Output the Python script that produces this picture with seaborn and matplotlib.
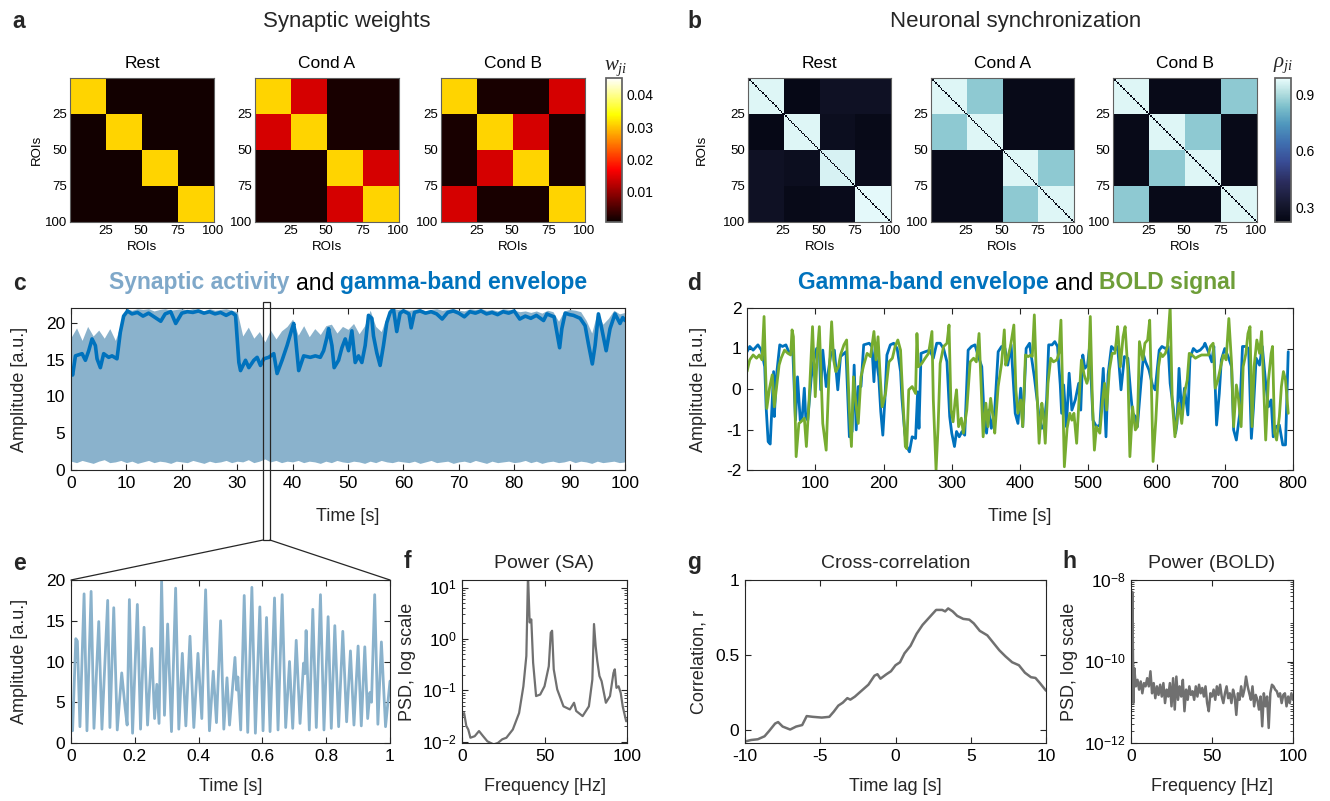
import numpy as np
import matplotlib
matplotlib.use("Agg")
import matplotlib.pyplot as plt
import seaborn as sns
from matplotlib.colors import LinearSegmentedColormap
from matplotlib.patches import Rectangle, ConnectionPatch
from matplotlib.offsetbox import TextArea, HPacker, AnchoredOffsetbox
from matplotlib.transforms import blended_transform_factory

# ------------------------------------------------------------------ data
roi_ticks = [25, 50, 75, 100]
block_size = 25
conditions = ["Rest", "Cond A", "Cond B"]

# synaptic weights, 4x4 block values (w_ji)
w_rest = [[0.031, 0.001, 0.001, 0.001],
          [0.001, 0.031, 0.001, 0.001],
          [0.001, 0.001, 0.031, 0.001],
          [0.001, 0.001, 0.001, 0.031]]
w_cond_a = [[0.031, 0.014, 0.0013, 0.0013],
            [0.014, 0.031, 0.0013, 0.0013],
            [0.0013, 0.0013, 0.031, 0.014],
            [0.0013, 0.0013, 0.014, 0.031]]
w_cond_b = [[0.031, 0.0013, 0.0013, 0.014],
            [0.0013, 0.031, 0.014, 0.0013],
            [0.0013, 0.014, 0.031, 0.0013],
            [0.014, 0.0013, 0.0013, 0.031]]
w_limits = [0.0004, 0.0453]
w_ticks = [0.01, 0.02, 0.03, 0.04]

# neuronal synchronization, 4x4 block values (rho_ji)
rho_rest = [[0.97, 0.23, 0.28, 0.28],
            [0.23, 0.97, 0.26, 0.24],
            [0.28, 0.26, 0.96, 0.25],
            [0.28, 0.24, 0.25, 0.98]]
rho_cond_a = [[0.97, 0.86, 0.24, 0.24],
              [0.86, 0.97, 0.24, 0.24],
              [0.24, 0.24, 0.97, 0.86],
              [0.24, 0.24, 0.86, 0.97]]
rho_cond_b = [[0.97, 0.24, 0.24, 0.86],
              [0.24, 0.97, 0.86, 0.24],
              [0.24, 0.86, 0.97, 0.24],
              [0.86, 0.24, 0.24, 0.97]]
rho_diag = 0.22
rho_limits = [0.22, 0.99]
rho_ticks = [0.3, 0.6, 0.9]

# panel c: synaptic activity (1 s grid) and gamma-band envelope
sa_time = list(range(0, 101))
sa_upper = [18.0, 19.3, 17.6, 19.5, 18.2, 19.0, 17.9, 19.2, 17.6, 19.8,
            21.9, 21.7, 21.9, 21.8, 21.9, 21.6, 21.8, 21.9, 21.7, 21.8,
            21.9, 21.7, 21.9, 21.8, 21.6, 21.9, 21.7, 21.8, 21.9, 21.7,
            21.5, 18.2, 19.4, 17.9, 18.8, 17.4, 19.0, 17.8, 18.9, 19.5,
            20.5, 18.3, 19.6, 18.1, 19.2, 18.4, 19.6, 19.8, 18.6, 19.5,
            19.1, 19.9, 18.5, 19.6, 21.7, 19.5, 18.8, 20.9, 21.9, 21.8,
            21.9, 21.7, 21.8, 21.9, 21.6, 21.8, 21.9, 21.7, 21.8, 21.9,
            21.7, 21.6, 21.9, 21.8, 21.9, 21.7, 21.8, 21.6, 21.9, 21.8,
            21.7, 21.5, 21.6, 21.4, 21.6, 21.3, 21.7, 21.5, 20.2, 21.6,
            21.8, 21.7, 21.5, 20.3, 18.6, 21.5, 19.8, 20.6, 21.7, 21.2, 21.4]
sa_lower = [1.2, 1.0, 1.3, 1.1, 0.9, 1.2, 1.4, 1.0, 1.1, 1.3,
            1.0, 1.2, 0.9, 1.1, 1.3, 1.0, 1.2, 1.1, 0.9, 1.2,
            1.1, 1.0, 1.3, 1.1, 0.9, 1.2, 1.0, 1.1, 1.3, 1.0,
            1.2, 1.1, 1.4, 1.0, 1.2, 1.5, 1.1, 1.3, 1.0, 1.2,
            1.1, 1.3, 1.0, 1.2, 1.1, 0.9, 1.2, 1.0, 1.3, 1.1,
            1.0, 1.2, 1.1, 0.9, 1.2, 1.0, 1.3, 1.1, 1.0, 1.2,
            1.1, 1.0, 1.2, 0.9, 1.1, 1.3, 1.0, 1.1, 1.2, 0.9,
            1.1, 1.2, 1.0, 1.3, 1.1, 0.9, 1.2, 1.0, 1.1, 1.2,
            1.0, 1.1, 1.3, 1.0, 1.2, 0.9, 1.1, 1.2, 1.0, 1.1,
            1.3, 1.0, 1.2, 1.1, 0.9, 1.2, 1.0, 1.1, 1.2, 1.0, 1.1]
env_time = [0, 0.3, 0.8, 2.0, 2.6, 3.2, 3.8, 4.4, 4.7, 5.3, 5.9, 6.8, 7.4, 8.3, 8.9, 9.5,
            10.2, 11, 12, 13, 14, 15, 16.2, 17, 18, 18.9, 20, 21, 22, 23, 24, 25, 26, 27,
            28, 29, 29.7, 30.3, 30.6, 31.5, 32.1, 33, 33.6, 34.2, 34.8, 35.7, 36.6, 37.2,
            38.1, 39, 39.9, 40.2, 40.5, 41.1, 42, 43.2, 44.1, 45, 45.6, 46.2, 46.5, 47.1,
            47.5, 48.3, 48.9, 49.5, 50.1, 50.7, 51.3, 51.9, 52.5, 53.1, 53.7, 54.3, 54.6,
            55.2, 55.8, 56.4, 57, 57.6, 58.2, 58.8, 59.4, 60, 61, 61.4, 62, 63, 64, 65, 66,
            67, 68, 69, 70, 71, 72, 73, 74, 75, 76, 77, 78, 79, 80, 81, 82, 83, 84, 85.3,
            85.9, 86.5, 87.2, 87.7, 88.2, 88.6, 89.2, 90, 90.7, 91.9, 92.8, 93.4, 94.1,
            94.6, 95.2, 95.8, 96.6, 97.3, 98.2, 99.1, 99.6, 100]
env_value = [13.5, 12.9, 15.5, 15.8, 14.9, 16.2, 17.8, 16.9, 15.1, 13.9, 15.8, 15.3, 15.5,
             15.1, 18.7, 20.9, 21.6, 21.2, 21.4, 20.9, 21.3, 20.8, 20.2, 21.2, 21.5, 19.9,
             21.3, 21.5, 21.4, 21.6, 21.3, 21.5, 21.2, 21.4, 21.0, 21.4, 21.0, 14.6, 13.5,
             14.9, 13.9, 14.9, 15.3, 14.2, 15.1, 15.3, 15.8, 13.1, 14.9, 16.9, 19.2, 19.9,
             18.2, 13.5, 15.5, 15.3, 15.5, 15.3, 16.2, 18.0, 19.2, 16.9, 13.9, 14.9, 16.6,
             17.8, 16.2, 18.9, 14.6, 15.5, 14.6, 16.9, 21.0, 20.6, 18.2, 15.9, 14.2, 16.9,
             20.0, 21.4, 21.9, 18.8, 21.3, 21.6, 21.2, 19.3, 21.4, 21.6, 21.3, 21.5, 21.2,
             20.5, 21.4, 21.6, 21.3, 20.8, 21.5, 21.3, 21.6, 21.2, 21.4, 21.1, 21.5, 21.3,
             21.6, 20.5, 20.9, 20.6, 21.0, 20.3, 21.2, 21.0, 20.8, 18.7, 16.6, 19.2, 21.3,
             21.1, 21.0, 20.6, 19.6, 17.1, 14.4, 16.9, 21.2, 19.2, 16.2, 19.2, 21.2, 19.9,
             20.7, 20.3]
zoom_window = [34.7, 35.9]

# panel d: gamma-band envelope and BOLD signal
gamma_time = [0, 4, 9, 16, 21, 26, 28, 31, 34, 37, 39, 40, 43, 48, 52, 57, 62, 67, 71, 74,
              78, 81, 84, 86, 89, 94, 97, 102, 106, 108, 111, 116, 123, 128, 133, 137, 145,
              150, 154, 157, 160, 163, 167, 171, 179, 183, 186, 188, 193, 196, 199, 202,
              205, 210, 215, 220, 225, 227, 231, 234, 238, 242, 247, 250, 252, 255, 261,
              268, 273, 278, 283, 288, 293, 297, 300, 304, 307, 311, 315, 319, 324, 329,
              334, 339, 344, 347, 351, 354, 358, 363, 368, 373, 378, 382, 387, 393, 397,
              401, 404, 409, 414, 416, 421, 425, 428, 432, 435, 439, 442, 447, 451, 455,
              459, 461, 464, 468, 472, 476, 481, 486, 489, 492, 495, 499, 502, 507, 512,
              517, 522, 526, 529, 534, 539, 543, 548, 553, 558, 562, 565, 569, 572, 577,
              581, 584, 589, 594, 598, 604, 608, 613, 617, 620, 625, 628, 630, 633, 637,
              641, 646, 649, 654, 659, 664, 669, 671, 676, 681, 684, 688, 692, 695, 700,
              705, 710, 713, 717, 722, 726, 731, 735, 739, 742, 746, 751, 755, 760, 764,
              768, 771, 775, 780, 785, 789, 793]
gamma_value = [0.92, 1.05, 0.96, 1.09, 0.96, 0.55, -0.44, -1.30, -1.36, -0.27, 0.43, -0.68,
               0.30, 1.09, 1.05, 1.09, 0.88, 1.00, -0.77, 0.30, -0.77, -0.68, 0.02, -0.68,
               -0.77, 0.26, 0.63, 1.00, 0.96, -0.02, 0.96, 0.06, 0.88, 0.96, -0.02, 0.80,
               0.92, -1.18, -1.05, 0.59, -1.01, 0.06, 0.06, 1.09, 1.13, 1.05, 0.18, 0.92,
               0.30, -0.56, -1.14, -0.27, 0.84, 1.09, 1.13, 1.00, 0.43, -0.23, -1.05, -1.42,
               -1.55, -1.18, -1.22, -0.07, -0.97, 0.88, 0.92, 0.96, 0.76, 1.13, 1.13, 1.00,
               0.67, -0.68, -1.09, -1.42, -1.05, -1.18, -1.05, -1.14, 0.96, 1.05, 1.09, 0.80,
               0.55, -0.52, -1.09, -0.52, -0.97, -0.52, 0.92, 1.05, 1.00, 0.59, 1.09, -0.60,
               -0.85, 0.02, -0.93, 1.00, 1.13, 0.88, 0.30, -0.27, -0.68, -0.97, -0.93, -0.27,
               1.09, 1.09, 1.17, 1.05, 0.10, -0.60, 0.10, -0.93, 0.39, -0.52, -0.27, 0.14,
               -0.52, 0.84, 0.51, 0.59, 1.05, -0.77, -0.93, -0.89, 0.51, -1.18, 0.35, 1.05,
               0.96, 1.05, -0.02, 0.80, 0.76, -0.07, -0.60, -0.68, -0.93, 0.10, 0.84, 0.67,
               0.47, 0.10, -0.02, 0.96, 1.05, 1.00, 1.05, 0.14, -0.52, -1.09, -0.85, 0.51,
               -0.64, 0.02, -0.64, 0.76, 1.00, 0.92, 0.96, 1.05, 1.13, 0.92, 0.67, 1.05,
               -0.89, -0.11, 0.72, 1.00, 0.80, 0.55, -1.01, -1.26, -0.60, 1.05, 1.05, 1.00,
               -1.22, -0.48, 0.76, 0.59, 1.05, 0.14, -0.44, -0.27, -1.18, -0.93, -0.89,
               -1.38, -1.38, 0.92]
bold_time = [0, 4, 9, 14, 18, 22, 25, 27, 29, 33, 37, 40, 44, 47, 50, 55, 60, 64, 66, 68,
             72, 76, 79, 84, 87, 91, 96, 100, 103, 106, 111, 116, 120, 124, 127, 130, 134,
             137, 142, 146, 150, 153, 156, 159, 163, 167, 171, 176, 181, 186, 189, 192,
             195, 198, 203, 208, 213, 217, 221, 225, 227, 230, 232, 234, 237, 242, 247,
             249, 251, 256, 261, 266, 271, 273, 277, 280, 283, 288, 293, 296, 299, 302,
             305, 307, 310, 314, 317, 322, 327, 332, 336, 340, 344, 346, 350, 353, 357,
             361, 363, 368, 373, 377, 379, 382, 386, 391, 394, 397, 401, 404, 408, 412,
             416, 418, 421, 424, 428, 432, 434, 437, 441, 445, 449, 454, 457, 460, 462,
             465, 469, 473, 476, 479, 483, 487, 490, 494, 498, 500, 503, 506, 509, 512,
             517, 521, 524, 527, 531, 535, 539, 541, 543, 547, 551, 554, 558, 561, 565,
             569, 572, 575, 580, 583, 587, 590, 593, 595, 599, 603, 606, 609, 613, 616,
             620, 623, 627, 630, 633, 637, 641, 645, 648, 652, 657, 661, 666, 671, 676,
             679, 683, 686, 690, 694, 698, 702, 706, 710, 713, 717, 720, 724, 727, 731,
             734, 737, 740, 743, 747, 751, 754, 757, 760, 764, 768, 770, 773, 776, 780,
             783, 786, 789, 793]
bold_value = [0.43, 0.72, 0.84, 0.76, 0.84, 0.72, 1.79, 0.55, -0.48, 0.02, 0.35, -0.44,
              0.14, 0.59, 0.76, 0.96, 0.88, 0.84, 1.46, 1.29, -1.67, -0.85, -0.81, -0.72,
              -1.42, -0.27, 1.54, -0.19, 0.88, 1.54, -0.85, -1.51, 0.30, 1.66, 0.72, 0.43,
              0.55, 0.84, 1.09, 1.21, -0.52, -1.42, 0.30, -0.27, -0.85, 0.30, 0.59, 0.88,
              0.80, 1.42, 0.72, 1.29, 0.35, -0.44, -0.11, 0.67, 0.76, 1.05, 1.21, 0.96,
              0.22, -0.77, -1.42, -1.47, -0.02, 0.06, -0.11, 1.37, 0.55, 0.63, 0.76, 0.88,
              1.42, -0.27, -2.00, -0.93, 0.63, 1.05, 1.13, 1.58, -0.52, -0.81, -0.27, -0.02,
              -0.93, -0.72, -1.09, -0.52, 0.67, 0.76, 0.67, 1.37, -0.35, -1.18, -0.35, -0.93,
              -0.23, -0.77, -1.09, 0.06, 0.63, 1.46, 0.59, 0.76, 1.05, 1.58, -0.02, -0.60,
              -0.27, -0.93, 0.84, 0.80, 0.84, 0.80, 1.83, 0.30, -1.34, -0.35, -0.60, -1.34,
              0.14, 0.76, 0.67, 0.72, 0.88, 1.70, 0.30, -1.92, -0.97, -0.60, -0.77, -0.60,
              -1.34, -0.11, 0.72, 0.35, 0.14, 0.26, 1.79, -0.27, -1.51, -0.93, -1.09, -0.27,
              0.14, -0.52, 0.47, 0.88, 0.88, 1.17, 1.54, 0.55, 1.29, 1.54, 0.47, -1.67,
              -0.44, -1.01, -0.93, 1.17, 0.72, 1.13, 1.21, 1.70, -0.27, -1.79, -0.77, 0.55,
              0.88, 0.80, 0.88, 1.05, 2.03, -0.27, -1.18, -0.77, -0.35, -0.85, -0.11, 0.22,
              0.88, 0.84, 0.76, 0.80, 0.84, 0.84, 0.84, 1.05, 1.13, 0.02, 0.22, 0.55, 0.84,
              0.72, 1.74, 0.63, -0.93, 0.10, -0.23, -0.93, 0.55, 0.88, 1.37, 1.54, -0.93,
              0.55, 1.21, 0.88, 1.42, 0.06, -1.26, 0.22, 0.88, 1.05, -1.09, -1.26, -0.68,
              0.06, 0.43, 0.22, -0.60]

# panel e: 1-s zoom of synaptic activity
zoom_time = [0.000, 0.005, 0.015, 0.020, 0.028, 0.041, 0.050, 0.063, 0.072, 0.087, 0.097,
             0.115, 0.122, 0.134, 0.145, 0.159, 0.170, 0.176, 0.183, 0.193, 0.208, 0.218,
             0.229, 0.240, 0.253, 0.262, 0.269, 0.276, 0.284, 0.293, 0.303, 0.315, 0.328,
             0.338, 0.349, 0.360, 0.373, 0.385, 0.398, 0.410, 0.422, 0.434, 0.446, 0.456,
             0.469, 0.479, 0.489, 0.497, 0.514, 0.519, 0.523, 0.532, 0.543, 0.554, 0.567,
             0.578, 0.592, 0.602, 0.613, 0.624, 0.638, 0.649, 0.662, 0.673, 0.685, 0.695,
             0.706, 0.718, 0.729, 0.733, 0.737, 0.747, 0.758, 0.769, 0.782, 0.793, 0.806,
             0.816, 0.827, 0.839, 0.852, 0.864, 0.876, 0.887, 0.900, 0.910, 0.921, 0.930,
             0.937, 0.942, 0.952, 0.962, 0.973, 0.986, 1.000]
zoom_value = [5.0, 1.5, 12.8, 12.5, 2.0, 18.3, 1.5, 18.6, 1.8, 14.9, 1.7, 17.5, 1.9, 16.6,
              1.6, 8.6, 4.2, 2.2, 17.6, 1.2, 17.0, 1.7, 14.2, 2.2, 11.6, 3.0, 7.2, 2.4, 19.9,
              3.4, 14.6, 1.4, 19.0, 1.7, 11.0, 2.1, 13.1, 1.9, 11.0, 3.0, 18.8, 1.5, 8.8,
              2.5, 15.0, 1.7, 8.0, 2.2, 10.5, 6.5, 8.1, 1.6, 18.1, 1.3, 19.1, 1.2, 16.7, 1.5,
              15.4, 1.4, 17.8, 1.6, 18.2, 1.9, 10.0, 1.8, 12.6, 2.4, 9.8, 8.5, 13.8, 1.6,
              16.4, 1.9, 18.2, 1.6, 15.5, 1.8, 14.4, 2.0, 13.7, 2.6, 11.3, 2.2, 11.9, 2.1,
              11.8, 3.0, 6.2, 5.0, 18.2, 2.3, 12.4, 2.0, 7.6]

# panel f: power spectrum of synaptic activity (log10 PSD)
sa_freq = [0, 1.3, 2.6, 3.8, 5.1, 7.7, 10.3, 12.8, 15.4, 19.2, 21.8, 24.4, 26.9, 30.8, 34.6,
           37.2, 39.0, 40.0, 41.0, 42.0, 43.1, 44.9, 47.4, 50.0, 52.6, 53.8, 54.6, 55.6,
           57.7, 61.5, 65.4, 67.9, 69.2, 73.1, 76.9, 79.0, 80.0, 81.0, 82.0, 83.3, 84.6,
           87.2, 89.7, 91.8, 92.6, 93.6, 94.9, 96.2, 97.4, 99.5]
sa_psd_log10 = [-1.50, -1.44, -1.69, -1.76, -1.92, -1.89, -1.79, -1.89, -1.99, -2.05, -2.02,
                -1.95, -1.92, -1.76, -1.44, -0.92, -0.33, 1.25, 0.32, 0.38, -0.46, -1.11,
                -1.08, -0.92, -0.53, 0.12, 0.16, -0.59, -0.98, -1.31, -1.37, -1.24, -1.40,
                -1.50, -1.31, -0.79, 0.29, -0.14, -0.43, -0.72, -0.82, -1.24, -1.11, -0.66,
                -0.59, -0.95, -0.92, -1.05, -1.31, -1.60]

# panel g: cross-correlation
lag_s = [-10, -9.6, -9.15, -8.7, -8.4, -8.0, -7.8, -7.5, -7.0, -6.6, -6.2, -5.9, -5.5, -4.9,
         -4.4, -4.1, -3.8, -3.5, -3.2, -3.0, -2.7, -2.25, -1.8, -1.4, -1.2, -1.0, -0.6, -0.3,
         0.0, 0.3, 0.6, 1.0, 1.4, 1.8, 2.25, 2.7, 3.1, 3.3, 3.5, 3.8, 4.1, 4.5, 4.9, 5.2,
         5.6, 6.1, 6.5, 6.9, 7.3, 7.75, 8.2, 8.6, 9.0, 9.3, 9.6, 10.0]
xcorr_r = [-0.08, -0.07, -0.065, -0.045, -0.01, 0.04, 0.05, 0.02, 0.0, 0.02, 0.03, 0.09,
           0.085, 0.08, 0.085, 0.12, 0.16, 0.18, 0.21, 0.20, 0.22, 0.26, 0.30, 0.36, 0.37,
           0.34, 0.37, 0.39, 0.43, 0.45, 0.51, 0.56, 0.64, 0.70, 0.75, 0.80, 0.80, 0.79,
           0.81, 0.79, 0.76, 0.74, 0.735, 0.71, 0.66, 0.63, 0.58, 0.53, 0.49, 0.45, 0.43,
           0.38, 0.35, 0.345, 0.31, 0.26]

# panel h: power spectrum of BOLD (log10 PSD)
bold_freq = [0, 0.8, 1.5] + list(range(2, 101))
bold_psd_log10 = [-11.02, -8.29, -11.02, -10.16, -10.61, -10.45, -10.69, -10.49, -10.78,
                  -10.53, -10.61, -10.41, -10.61, -10.24, -10.78, -10.53, -10.90, -10.61,
                  -10.82, -10.57, -10.86, -10.53, -11.02, -10.69, -10.86, -10.53, -11.10,
                  -10.41, -11.18, -10.37, -10.94, -10.61, -10.86, -10.45, -11.22, -10.69,
                  -10.94, -10.61, -10.82, -10.73, -10.94, -10.61, -10.86, -10.57, -10.78,
                  -10.65, -10.86, -10.61, -11.02, -11.22, -10.78, -10.86, -10.69, -10.94,
                  -10.61, -10.82, -10.57, -10.86, -11.02, -10.78, -10.61, -10.90, -10.78,
                  -11.02, -10.69, -10.86, -11.31, -10.78, -10.94, -10.61, -10.86, -10.69,
                  -10.37, -10.61, -10.78, -10.94, -10.61, -11.10, -10.82, -10.94, -11.18,
                  -10.86, -11.59, -10.78, -11.10, -10.86, -11.63, -10.78, -10.57, -10.61,
                  -10.69, -10.73, -10.86, -10.78, -11.02, -10.82, -10.78, -11.10, -10.86,
                  -11.02, -10.78, -10.94]

# ------------------------------------------------------------------ style
sns.set_theme(style="white")
plt.rcParams["font.family"] = ["Liberation Sans", "DejaVu Sans"]
plt.rcParams["axes.unicode_minus"] = False
plt.rcParams["mathtext.fontset"] = "custom"
plt.rcParams["mathtext.rm"] = "Liberation Sans"
plt.rcParams["mathtext.it"] = "Liberation Serif:italic"
plt.rcParams["mathtext.bf"] = "Liberation Sans:bold"

W, H = 1330, 801
fig = plt.figure(figsize=(W / 100, H / 100), dpi=100)
fig.patch.set_facecolor("white")

EDGE = "#262626"
SA_COLOR = "#8AB2CC"
ENV_COLOR = "#0072BD"
BOLD_COLOR = "#77AC30"
GRAY = "#707070"


def add_ax(x0, y0, x1, y1):
    return fig.add_axes([x0 / W, 1 - y1 / H, (x1 - x0) / W, (y1 - y0) / H])


def fig_text(x, y, s, **kw):
    fig.text(x / W, 1 - y / H, s, ha="center", va="center", **kw)


def style_line_ax(ax, labelsize=12.5):
    for s in ax.spines.values():
        s.set_visible(True)
        s.set_color(EDGE)
        s.set_linewidth(0.8)
    ax.tick_params(which="both", direction="in", top=True, right=True, bottom=True,
                   left=True, colors=EDGE, labelcolor="black", labelsize=labelsize, pad=4)
    ax.tick_params(which="major", length=4, width=0.8)
    ax.tick_params(which="minor", length=2, width=0.6)
    ax.grid(False)


def block_matrix(blocks):
    return np.kron(np.array(blocks, dtype=float), np.ones((block_size, block_size)))


tick_pos = [t - 0.5 for t in roi_ticks]


def style_matrix_ax(ax, title, ylabel, ylabel_x):
    for s in ax.spines.values():
        s.set_visible(True)
        s.set_color("#606060")
        s.set_linewidth(0.8)
    ax.set_xticks(tick_pos)
    ax.set_xticklabels(roi_ticks)
    ax.set_yticks(tick_pos)
    ax.set_yticklabels(roi_ticks, rotation=0)
    ax.tick_params(direction="in", length=2.5, width=0.6, labelsize=9.5, bottom=True,
                   left=True, colors="#606060", labelcolor="black", pad=2)
    ax.set_title(title, fontsize=12.5, pad=7, color="black")
    ax.set_xlabel("ROIs", fontsize=9.5, color="black")
    ax.xaxis.set_label_coords(0.5, -0.135)
    if ylabel:
        ax.set_ylabel("ROIs", fontsize=9.5, color="black")
        ax.yaxis.set_label_coords(ylabel_x, 0.5)


# ---------------------------------------------------------------- panel a
hot = plt.get_cmap("hot")
a_boxes = [(70, 214), (255, 399), (441, 585)]
w_sets = [w_rest, w_cond_a, w_cond_b]
for i, ((x0, x1), blocks) in enumerate(zip(a_boxes, w_sets)):
    ax = add_ax(x0, 78, x1, 222)
    sns.heatmap(block_matrix(blocks), ax=ax, cmap=hot, vmin=w_limits[0], vmax=w_limits[1],
                cbar=False, xticklabels=False, yticklabels=False)
    style_matrix_ax(ax, conditions[i], i == 0, -0.19)
    if i == 0:
        mappable_a = ax.collections[0]
cax_a = add_ax(606, 78, 622, 222)
cb_a = fig.colorbar(mappable_a, cax=cax_a)
cb_a.set_ticks(w_ticks)
cb_a.set_ticklabels([f"{t:.2f}" for t in w_ticks])
cb_a.ax.tick_params(labelsize=10, direction="in", length=3, colors="#606060",
                    labelcolor="black")
cb_a.outline.set_edgecolor("#606060")
fig_text(616, 68, r"$w_{ji}$", fontsize=15)

# ---------------------------------------------------------------- panel b
ice = LinearSegmentedColormap.from_list(
    "ice_like",
    [(0.00, "#040613"), (0.12, "#16182f"), (0.28, "#2b2d5e"), (0.42, "#394d96"),
     (0.55, "#3f6fb0"), (0.68, "#4f97bd"), (0.80, "#7cbfcb"), (0.90, "#b5dfe0"),
     (1.00, "#eafdfd")])
b_boxes = [(748, 891), (931, 1074), (1113, 1257)]
rho_sets = [rho_rest, rho_cond_a, rho_cond_b]
for i, ((x0, x1), blocks) in enumerate(zip(b_boxes, rho_sets)):
    ax = add_ax(x0, 78, x1, 222)
    mat = block_matrix(blocks)
    np.fill_diagonal(mat, rho_diag)
    sns.heatmap(mat, ax=ax, cmap=ice, vmin=rho_limits[0], vmax=rho_limits[1],
                cbar=False, xticklabels=False, yticklabels=False)
    style_matrix_ax(ax, conditions[i], i == 0, -0.28)
    if i == 0:
        mappable_b = ax.collections[0]
cax_b = add_ax(1275, 78, 1291, 222)
cb_b = fig.colorbar(mappable_b, cax=cax_b)
cb_b.set_ticks(rho_ticks)
cb_b.set_ticklabels([f"{t:.1f}" for t in rho_ticks])
cb_b.ax.tick_params(labelsize=10, direction="in", length=3, colors="#606060",
                    labelcolor="black")
cb_b.outline.set_edgecolor("#606060")
fig_text(1283, 65, r"$\rho_{ji}$", fontsize=15)

# ---------------------------------------------------------------- panel c
ax_c = add_ax(71, 308, 625, 470)
ax_c.fill_between(sa_time, sa_lower, sa_upper, color=SA_COLOR, linewidth=0)
sns.lineplot(x=env_time, y=env_value, ax=ax_c, color=ENV_COLOR, linewidth=2.6,
             estimator=None, sort=False, legend=False)
ax_c.set_xlim(0, 100)
ax_c.set_ylim(0, 22)
ax_c.set_xticks(range(0, 101, 10))
ax_c.set_yticks([0, 5, 10, 15, 20])
style_line_ax(ax_c)
ax_c.set_xlabel("Time [s]", fontsize=13)
ax_c.set_ylabel("Amplitude [a.u.]", fontsize=13)
ax_c.xaxis.set_label_coords(0.5, -0.235)
ax_c.yaxis.set_label_coords(-0.078, 0.5)

# ---------------------------------------------------------------- panel d
ax_d = add_ax(747, 308, 1293, 470)
sns.lineplot(x=gamma_time, y=gamma_value, ax=ax_d, color=ENV_COLOR, linewidth=2,
             estimator=None, sort=False, legend=False)
sns.lineplot(x=bold_time, y=bold_value, ax=ax_d, color=BOLD_COLOR, linewidth=2,
             estimator=None, sort=False, legend=False)
ax_d.set_xlim(0, 800)
ax_d.set_ylim(-2, 2)
ax_d.set_xticks(range(100, 801, 100))
ax_d.set_yticks([-2, -1, 0, 1, 2])
style_line_ax(ax_d)
ax_d.set_xlabel("Time [s]", fontsize=13)
ax_d.set_ylabel("Amplitude [a.u.]", fontsize=13)
ax_d.xaxis.set_label_coords(0.5, -0.235)
ax_d.yaxis.set_label_coords(-0.073, 0.5)

# ---------------------------------------------------------------- panel e
ax_e = add_ax(71, 580, 390, 743)
sns.lineplot(x=zoom_time, y=zoom_value, ax=ax_e, color=SA_COLOR, linewidth=2,
             estimator=None, sort=False, legend=False)
ax_e.set_xlim(0, 1)
ax_e.set_ylim(0, 20)
ax_e.set_xticks([0, 0.2, 0.4, 0.6, 0.8, 1])
ax_e.set_xticklabels(["0", "0.2", "0.4", "0.6", "0.8", "1"])
ax_e.set_yticks([0, 5, 10, 15, 20])
style_line_ax(ax_e)
ax_e.set_xlabel("Time [s]", fontsize=13)
ax_e.set_ylabel("Amplitude [a.u.]", fontsize=13)
ax_e.xaxis.set_label_coords(0.5, -0.215)
ax_e.yaxis.set_label_coords(-0.135, 0.5)

# ---------------------------------------------------------------- panel f
ax_f = add_ax(462, 580, 627, 743)
sns.lineplot(x=sa_freq, y=10 ** np.array(sa_psd_log10), ax=ax_f, color=GRAY,
             linewidth=1.6, estimator=None, sort=False, legend=False)
ax_f.set_yscale("log")
ax_f.set_xlim(0, 100)
ax_f.set_ylim(0.0095, 14)
ax_f.set_xticks([0, 50, 100])
ax_f.set_yticks([1e-2, 1e-1, 1e0, 1e1])
ax_f.set_yticklabels([r"$10^{-2}$", r"$10^{-1}$", r"$10^{0}$", r"$10^{1}$"])
style_line_ax(ax_f)
ax_f.set_title("Power (SA)", fontsize=14, pad=9)
ax_f.set_xlabel("Frequency [Hz]", fontsize=13)
ax_f.set_ylabel("PSD, log scale", fontsize=13)
ax_f.xaxis.set_label_coords(0.5, -0.215)
ax_f.yaxis.set_label_coords(-0.279, 0.5)

# ---------------------------------------------------------------- panel g
ax_g = add_ax(745, 580, 1046, 743)
sns.lineplot(x=lag_s, y=xcorr_r, ax=ax_g, color=GRAY, linewidth=1.8,
             estimator=None, sort=False, legend=False)
ax_g.set_xlim(-10, 10)
ax_g.set_ylim(-0.09, 1)
ax_g.set_xticks([-10, -5, 0, 5, 10])
ax_g.set_yticks([0, 0.5, 1])
ax_g.set_yticklabels(["0", "0.5", "1"])
style_line_ax(ax_g)
ax_g.set_title("Cross-correlation", fontsize=14, pad=9)
ax_g.set_xlabel("Time lag [s]", fontsize=13)
ax_g.set_ylabel("Correlation, r", fontsize=13)
ax_g.xaxis.set_label_coords(0.5, -0.215)
ax_g.yaxis.set_label_coords(-0.126, 0.5)

# ---------------------------------------------------------------- panel h
ax_h = add_ax(1131, 580, 1293, 743)
sns.lineplot(x=bold_freq, y=10 ** np.array(bold_psd_log10), ax=ax_h, color=GRAY,
             linewidth=1.8, estimator=None, sort=False, legend=False)
ax_h.set_yscale("log")
ax_h.set_xlim(0, 100)
ax_h.set_ylim(1e-12, 1e-8)
ax_h.set_xticks([0, 50, 100])
ax_h.set_yticks([1e-12, 1e-10, 1e-8])
ax_h.set_yticklabels([r"$10^{-12}$", r"$10^{-10}$", r"$10^{-8}$"])
style_line_ax(ax_h)
ax_h.set_title("Power (BOLD)", fontsize=14, pad=9)
ax_h.set_xlabel("Frequency [Hz]", fontsize=13)
ax_h.set_ylabel("PSD, log scale", fontsize=13)
ax_h.xaxis.set_label_coords(0.5, -0.215)
ax_h.yaxis.set_label_coords(-0.327, 0.5)

# ---------------------------------------------------------------- zoom marker c -> e
blend = blended_transform_factory(ax_c.transData, fig.transFigure)
rect_bottom = 1 - 540 / H
rect_top = 1 - 302 / H
fig.add_artist(Rectangle((zoom_window[0], rect_bottom), zoom_window[1] - zoom_window[0],
                         rect_top - rect_bottom, transform=blend, fill=False,
                         edgecolor=EDGE, linewidth=0.9, clip_on=False))
for xa, xb in [(zoom_window[0], 0), (zoom_window[1], 1)]:
    fig.add_artist(ConnectionPatch(xyA=(xa, rect_bottom), coordsA=blend,
                                   xyB=(xb, 1), coordsB=ax_e.transAxes,
                                   color=EDGE, linewidth=0.9))

# ---------------------------------------------------------------- titles & letters
def multicolor_title(parts, x, y, size=16.5):
    areas = [TextArea(s, textprops=dict(color=c, fontsize=size, fontweight=w))
             for s, c, w in parts]
    box = HPacker(children=areas, align="baseline", pad=0, sep=4.5)
    fig.add_artist(AnchoredOffsetbox(loc="center", child=box, pad=0, borderpad=0,
                                     frameon=False, bbox_to_anchor=(x / W, 1 - y / H),
                                     bbox_transform=fig.transFigure))


multicolor_title([("Synaptic activity", "#7FA8C9", "bold"), ("and", "black", "normal"),
                  ("gamma-band envelope", ENV_COLOR, "bold")], 348, 283)
multicolor_title([("Gamma-band envelope", ENV_COLOR, "bold"), ("and", "black", "normal"),
                  ("BOLD signal", "#6E9E38", "bold")], 1017, 283)

fig_text(347, 22, "Synaptic weights", fontsize=16)
fig_text(1016, 22, "Neuronal synchronization", fontsize=16)

for letter, x, y in [("a", 19, 22), ("b", 694, 22), ("c", 19, 283), ("d", 694, 283),
                     ("e", 19, 563), ("f", 407, 562), ("g", 694, 562), ("h", 1069, 562)]:
    fig_text(x, y, letter, fontsize=16.5, fontweight="bold")

fig.savefig("out.png", dpi=100)
